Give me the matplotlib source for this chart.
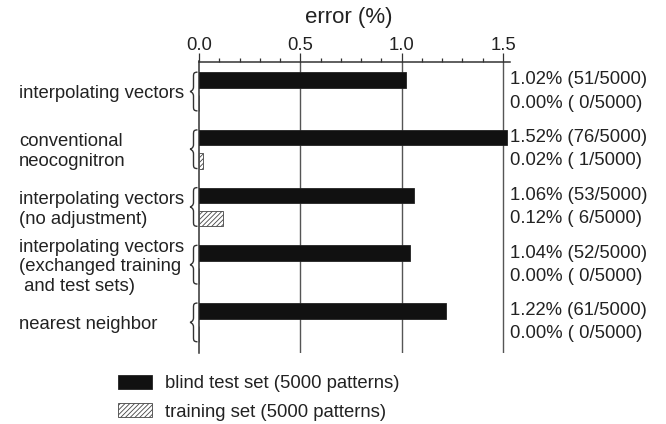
import matplotlib
matplotlib.use("Agg")
import matplotlib.pyplot as plt
from matplotlib.path import Path
from matplotlib.patches import PathPatch
from matplotlib.transforms import blended_transform_factory
from matplotlib.ticker import MultipleLocator

plt.rcParams['font.family'] = ['Liberation Sans', 'DejaVu Sans']
plt.rcParams['hatch.linewidth'] = 0.6

# data
methods = [
    "interpolating vectors",
    "conventional\nneocognitron",
    "interpolating vectors\n(no adjustment)",
    "interpolating vectors\n(exchanged training\n and test sets)",
    "nearest neighbor",
]
blind_err = [1.02, 1.52, 1.06, 1.04, 1.22]
train_err = [0.00, 0.02, 0.12, 0.00, 0.00]
blind_cnt = [51, 76, 53, 52, 61]
train_cnt = [0, 1, 6, 0, 0]
n_patterns = 5000
xticks = [0.0, 0.5, 1.0, 1.5]

W, H = 666, 424
fig = plt.figure(figsize=(W / 100, H / 100), dpi=100)
ax = fig.add_axes([199 / W, 1 - 353 / H, (510 - 199) / W, (353 - 61.5) / H])

fs = 13.3
off = 0.2
bh = 0.27
ypos = list(range(len(methods)))

blind_bars = ax.barh([y - off for y in ypos], blind_err, height=bh, color="#111111",
                     edgecolor="#222222", linewidth=0.6, zorder=3,
                     label="blind test set (5000 patterns)")
train_bars = ax.barh([y + off for y in ypos], train_err, height=bh, color="white",
                     edgecolor="#444444", linewidth=0.6, hatch="///////", zorder=3,
                     label="training set (5000 patterns)")

ax.set_xlim(0, 1.5345)
ax.set_ylim(4.53, -0.52)

# top axis only
ax.xaxis.tick_top()
ax.set_xticks(xticks)
ax.set_xticklabels([f"{t:.1f}" for t in xticks])
ax.xaxis.set_minor_locator(MultipleLocator(0.1))
ax.tick_params(axis="x", which="major", direction="out", length=6.2, width=0.9, color="#333",
               labelsize=fs, pad=-0.6, labelcolor="#222")
ax.tick_params(axis="x", which="minor", direction="out", length=3.2, width=0.9, color="#333")
ax.set_yticks([])
for s in ["right", "bottom"]:
    ax.spines[s].set_visible(False)
for s in ["top", "left"]:
    ax.spines[s].set_color("#333")
    ax.spines[s].set_linewidth(1.1)
for t in xticks[1:]:
    ax.axvline(t, color="#555555", linewidth=1.0, zorder=1)

fig.text(349 / W, 1 - 18 / H, "error (%)", ha="center", va="center", fontsize=16, color="#222")

# right annotations
tr_r = blended_transform_factory(ax.transAxes, ax.transData)
for y, e, c in zip(ypos, blind_err, blind_cnt):
    ax.text(1.0, y - off, f"{e:.2f}% ({c}/{n_patterns})",
            transform=tr_r, ha="left", va="center", fontsize=fs, color="#222")
for y, e, c in zip(ypos, train_err, train_cnt):
    lab = f"{e:.2f}% ({c}/{n_patterns})" if c >= 10 else f"{e:.2f}% ( {c}/{n_patterns})"
    ax.text(1.0, y + off, lab, transform=tr_r, ha="left", va="center", fontsize=fs, color="#222")

# left labels and braces
tr_l = blended_transform_factory(fig.transFigure, ax.transData)
for y, m in zip(ypos, methods):
    fig.text(19 / W, y + 0.04, m, transform=tr_l, ha="left", va="center", fontsize=fs,
             color="#222", linespacing=1.2)
    top, bot = y - off - bh / 2, y + off + bh / 2
    mid = y
    x_tip, x_stem, x_end = 190 / W, 193.5 / W, 197.5 / W
    h = bot - top
    verts = [
        (x_end, top),
        (x_stem, top), (x_stem, top + 0.04 * h), (x_stem, top + 0.12 * h),
        (x_stem, mid - 0.12 * h),
        (x_stem, mid - 0.03 * h), (x_tip + 0.001, mid), (x_tip, mid),
        (x_tip + 0.001, mid), (x_stem, mid + 0.03 * h), (x_stem, mid + 0.12 * h),
        (x_stem, bot - 0.12 * h),
        (x_stem, bot - 0.04 * h), (x_stem, bot), (x_end, bot),
    ]
    codes = [Path.MOVETO,
             Path.CURVE4, Path.CURVE4, Path.CURVE4,
             Path.LINETO,
             Path.CURVE4, Path.CURVE4, Path.CURVE4,
             Path.CURVE4, Path.CURVE4, Path.CURVE4,
             Path.LINETO,
             Path.CURVE4, Path.CURVE4, Path.CURVE4]
    fig.add_artist(PathPatch(Path(verts, codes), transform=tr_l, facecolor="none",
                             edgecolor="#333", linewidth=1.0))

fig.legend(handles=[blind_bars, train_bars], loc="upper left",
           bbox_to_anchor=(118 / W, 1 - 375 / H), frameon=False, fontsize=fs,
           handlelength=1.85, handleheight=0.8, handletextpad=0.7,
           labelspacing=0.58, borderpad=0, borderaxespad=0, labelcolor="#222")

fig.savefig("out.png", dpi=100, facecolor="white")
